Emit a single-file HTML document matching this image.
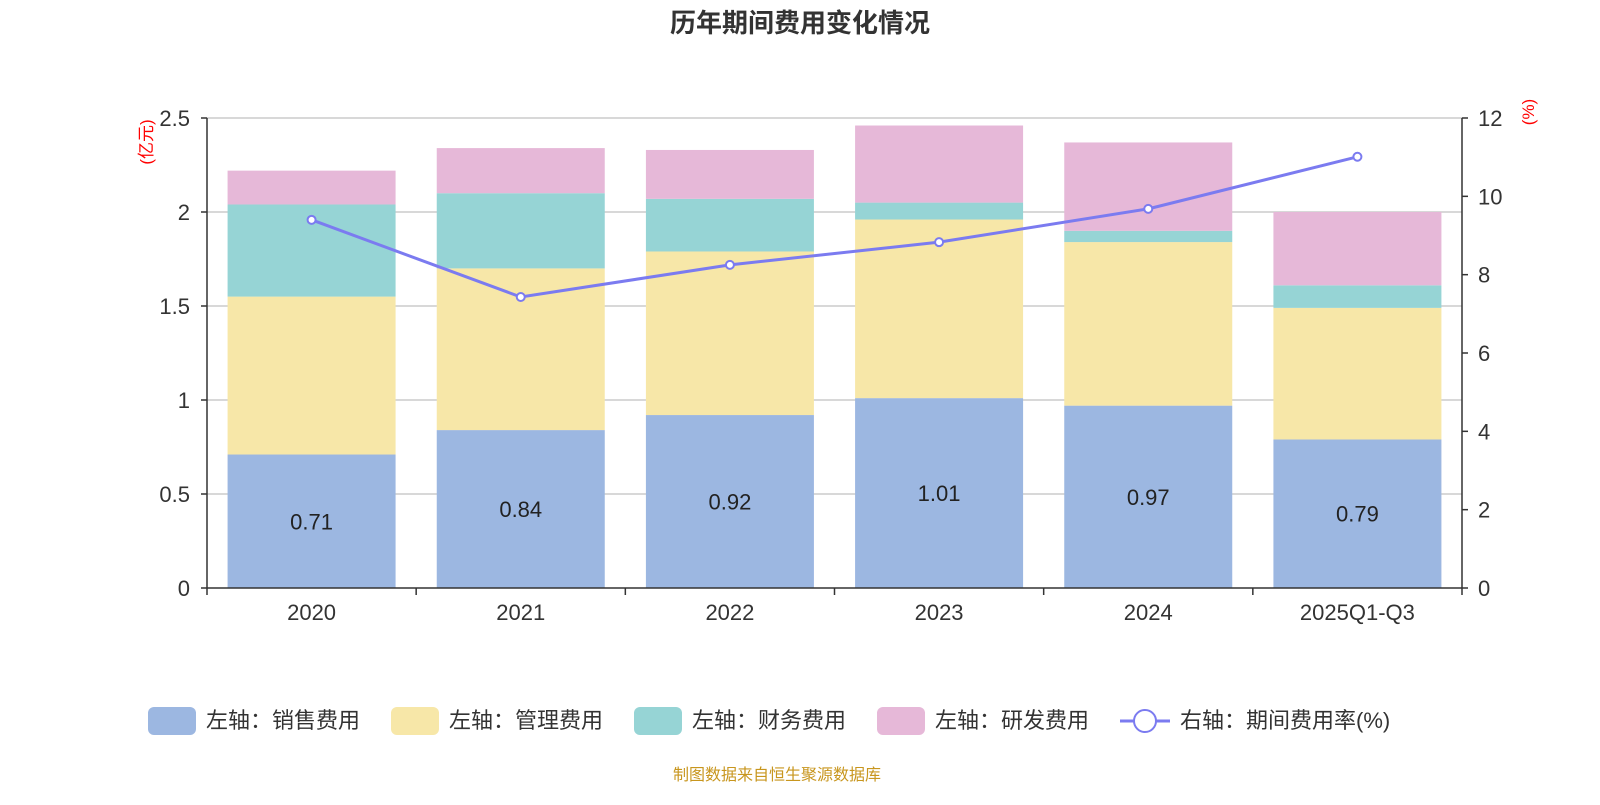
<!DOCTYPE html>
<html><head><meta charset="utf-8"><style>
body{margin:0;background:#fff;}
svg text{font-family:"Liberation Sans","Noto Sans CJK SC",sans-serif;}
</style></head><body>
<svg id="c" width="1600" height="800" xmlns="http://www.w3.org/2000/svg"></svg>
<script>
const categories=["2020","2021","2022","2023","2024","2025Q1-Q3"];
const sales=[0.71,0.84,0.92,1.01,0.97,0.79];
const mgmt=[0.84,0.86,0.87,0.95,0.87,0.70];
const fin=[0.49,0.40,0.28,0.09,0.06,0.12];
const rd=[0.18,0.24,0.26,0.41,0.47,0.39];
const rate=[9.40,7.43,8.25,8.83,9.68,11.01];
const leftTicks=[0,0.5,1,1.5,2,2.5];
const leftLabels=["0","0.5","1","1.5","2","2.5"];
const rightTicks=[0,2,4,6,8,10,12];

const svg=document.getElementById('c');
const NS="http://www.w3.org/2000/svg";
function mk(t,a,txt){const e=document.createElementNS(NS,t);for(const k in a)e.setAttribute(k,a[k]);if(txt!==undefined)e.textContent=txt;svg.appendChild(e);return e;}
const X0=207,X1=1462,Y0=588,Y1=118;
const yL=v=>Y0-(v/2.5)*(Y0-Y1);
const yR=v=>Y0-(v/12)*(Y0-Y1);
const bw=(X1-X0)/categories.length;
const xc=i=>X0+bw*(i+0.5);

let t=mk('text',{x:800,y:32,'text-anchor':'middle','font-size':26,'font-weight':'bold',fill:'#333'},'历年期间费用变化情况');


leftTicks.forEach((v,i)=>{
  if(v>0){const g=mk('line',{x1:X0,x2:X1,y1:yL(v),y2:yL(v),stroke:'#ccc','stroke-width':1.5});
  }
  const tx=mk('text',{x:190,y:yL(v)+8,'text-anchor':'end','font-size':22,fill:'#333'},leftLabels[i]);
  
  mk('line',{x1:X0-6,x2:X0,y1:yL(v),y2:yL(v),stroke:'#333','stroke-width':1.5});
});
rightTicks.forEach(v=>{
  const tx=mk('text',{x:1478,y:yR(v)+8,'font-size':22,fill:'#333'},String(v));
  
  mk('line',{x1:X1,x2:X1+6,y1:yR(v),y2:yR(v),stroke:'#333','stroke-width':1.5});
});
t=mk('text',{x:0,y:0,'font-size':17,fill:'red',transform:'translate(152,142) rotate(-90)','text-anchor':'middle'},'(亿元)');

t=mk('text',{x:0,y:0,'font-size':17,fill:'red',transform:'translate(1534,112) rotate(-90)','text-anchor':'middle'},'(%)');


const series=[[sales,'#9cb7e1'],[mgmt,'#f7e7a8'],[fin,'#96d4d5'],[rd,'#e6b8d8']];
categories.forEach((c,i)=>{
  let base=0;
  series.forEach(([arr,col],s)=>{
    const r=mk('rect',{x:xc(i)-84,width:168,y:yL(base+arr[i]),height:yL(base)-yL(base+arr[i]),fill:col});
    
    
    base+=arr[i];
  });
  const lb=mk('text',{x:xc(i),y:(yL(sales[i])+Y0)/2+8,'text-anchor':'middle','font-size':22,fill:'#222'},sales[i].toFixed(2));
  
  const xl=mk('text',{x:xc(i),y:620,'text-anchor':'middle','font-size':22,fill:'#333'},c);
  
});
mk('line',{x1:X0,x2:X0,y1:Y1,y2:Y0,stroke:'#333','stroke-width':1.5});
mk('line',{x1:X1,x2:X1,y1:Y1,y2:Y0,stroke:'#333','stroke-width':1.5});
mk('line',{x1:X0,x2:X1,y1:Y0,y2:Y0,stroke:'#333','stroke-width':1.5});
for(let i=0;i<=categories.length;i++)mk('line',{x1:X0+bw*i,x2:X0+bw*i,y1:Y0,y2:Y0+7,stroke:'#333','stroke-width':1.5});

const ln=mk('polyline',{points:rate.map((v,i)=>xc(i)+','+yR(v)).join(' '),fill:'none',stroke:'#7b7bf0','stroke-width':3});

rate.forEach((v,i)=>{const p=mk('circle',{cx:xc(i),cy:yR(v),r:4,fill:'#fff',stroke:'#7b7bf0','stroke-width':2});
});

const leg=[['左轴：销售费用','#9cb7e1',148],['左轴：管理费用','#f7e7a8',391],['左轴：财务费用','#96d4d5',634],['左轴：研发费用','#e6b8d8',877]];
leg.forEach(([n,c,x])=>{
  const r=mk('rect',{x:x,y:707,width:48,height:28,rx:6,fill:c});
  
  const tx=mk('text',{x:x+58,y:728,'font-size':22,fill:'#333'},n);
  
});
mk('line',{x1:1120,x2:1170,y1:721,y2:721,stroke:'#7b7bf0','stroke-width':3});
let lc=mk('circle',{cx:1145,cy:721,r:11,fill:'#fff',stroke:'#7b7bf0','stroke-width':2});

t=mk('text',{x:1180,y:728,'font-size':22,fill:'#333'},'右轴：期间费用率(%)');

t=mk('text',{x:777,y:780,'text-anchor':'middle','font-size':16,fill:'#c8961e'},'制图数据来自恒生聚源数据库');

</script>
</body></html>
